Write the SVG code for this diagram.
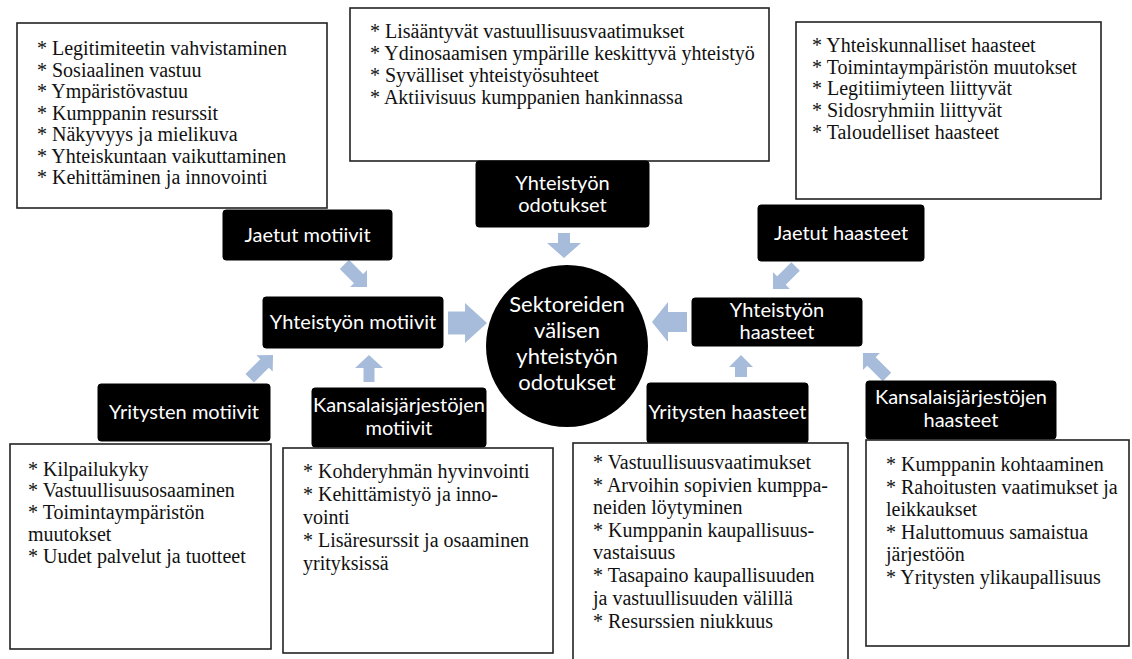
<svg xmlns="http://www.w3.org/2000/svg" width="1132" height="659" viewBox="0 0 1132 659">
<style>
.list{fill:#fff;stroke:#222;stroke-width:1.6}
.blk{fill:#000;stroke:#000;stroke-width:1}
.lt{font-family:"Liberation Serif","Times New Roman",serif;font-size:20px;fill:#111}
.bt{font-family:Lato,"Open Sans",sans-serif;font-size:20px;fill:#fff;text-anchor:middle}
.ct{font-family:Lato,"Open Sans",sans-serif;font-size:22px;fill:#fff;text-anchor:middle}
.arr{fill:#a7bbda;stroke:none}
</style>
<rect width="1132" height="659" fill="#fff"/>

<g id="connectors">
<polygon class="arr" transform="translate(344.4,264.4) rotate(45)" points="0,-6.5 20,-6.5 20,-12 32,0 20,12 20,6.5 0,6.5"/>
<polygon class="arr" transform="translate(448,323)" points="0,-11.5 17,-11.5 17,-20 39,0 17,20 17,11.5 0,11.5"/>
<polygon class="arr" transform="translate(249.7,378.3) rotate(-45)" points="0,-6 21,-6 21,-11.5 33,0 21,11.5 21,6 0,6"/>
<polygon class="arr" transform="translate(369,382) rotate(-90)" points="0,-5.5 14,-5.5 14,-14 27,0 14,14 14,5.5 0,5.5"/>
<polygon class="arr" transform="translate(564,233) rotate(90)" points="0,-6 10,-6 10,-17 25,0 10,17 10,6 0,6"/>
<polygon class="arr" transform="translate(795.6,266.4) rotate(135)" points="0,-6 20,-6 20,-12 32,0 20,12 20,6 0,6"/>
<polygon class="arr" transform="translate(687,322) rotate(180)" points="0,-10 19,-10 19,-20 35,0 19,20 19,10 0,10"/>
<polygon class="arr" transform="translate(741,377) rotate(-90)" points="0,-6 10,-6 10,-12 22,0 10,12 10,6 0,6"/>
<polygon class="arr" transform="translate(887,377) rotate(-135)" points="0,-6 22,-6 22,-12 34,0 22,12 22,6 0,6"/>
</g>

<g id="list-jaetut-motiivit">
<rect class="list" x="17" y="23" width="310" height="185"/>
<text class="lt" x="37" y="55">* Legitimiteetin vahvistaminen</text>
<text class="lt" x="37" y="76.5">* Sosiaalinen vastuu</text>
<text class="lt" x="37" y="98">* Ympäristövastuu</text>
<text class="lt" x="37" y="119.5">* Kumppanin resurssit</text>
<text class="lt" x="37" y="141">* Näkyvyys ja mielikuva</text>
<text class="lt" x="37" y="162.5">* Yhteiskuntaan vaikuttaminen</text>
<text class="lt" x="37" y="184">* Kehittäminen ja innovointi</text>
</g>

<g id="list-odotukset">
<rect class="list" x="350" y="8" width="419" height="153"/>
<text class="lt" x="370" y="38">* Lisääntyvät vastuullisuusvaatimukset</text>
<text class="lt" x="370" y="60">* Ydinosaamisen ympärille keskittyvä yhteistyö</text>
<text class="lt" x="370" y="82">* Syvälliset yhteistyösuhteet</text>
<text class="lt" x="370" y="104">* Aktiivisuus kumppanien hankinnassa</text>
</g>

<g id="list-jaetut-haasteet">
<rect class="list" x="796" y="22" width="305" height="177"/>
<text class="lt" x="812" y="52">* Yhteiskunnalliset haasteet</text>
<text class="lt" x="812" y="73.5">* Toimintaympäristön muutokset</text>
<text class="lt" x="812" y="95">* Legitiimiyteen liittyvät</text>
<text class="lt" x="812" y="117">* Sidosryhmiin liittyvät</text>
<text class="lt" x="812" y="139">* Taloudelliset haasteet</text>
</g>

<g id="node-jaetut-motiivit">
<rect class="blk" x="223" y="210" width="169" height="50" rx="3"/>
<text class="bt" x="307.5" y="242">Jaetut motiivit</text>
</g>

<g id="node-yhteistyon-odotukset">
<rect class="blk" x="476" y="161" width="173" height="66" rx="3"/>
<text class="bt" x="562.5" y="190">Yhteistyön</text>
<text class="bt" x="562.5" y="212">odotukset</text>
</g>

<g id="node-jaetut-haasteet">
<rect class="blk" x="758" y="205" width="166" height="56" rx="3"/>
<text class="bt" x="841" y="240">Jaetut haasteet</text>
</g>

<g id="node-yhteistyon-motiivit">
<rect class="blk" x="263" y="297" width="180" height="51" rx="3"/>
<text class="bt" x="353" y="329">Yhteistyön motiivit</text>
</g>

<g id="node-center">
<circle cx="567" cy="346" r="81" fill="#000"/>
<text class="ct" x="567" y="312">Sektoreiden</text>
<text class="ct" x="567" y="338">välisen</text>
<text class="ct" x="567" y="364">yhteistyön</text>
<text class="ct" x="567" y="390">odotukset</text>
</g>

<g id="node-yhteistyon-haasteet">
<rect class="blk" x="692" y="298" width="170" height="48" rx="3"/>
<text class="bt" x="777" y="317">Yhteistyön</text>
<text class="bt" x="777" y="339">haasteet</text>
</g>

<g id="node-yritysten-motiivit">
<rect class="blk" x="98" y="384" width="172" height="57" rx="3"/>
<text class="bt" x="184" y="419">Yritysten motiivit</text>
</g>

<g id="node-kansalais-motiivit">
<rect class="blk" x="312" y="388" width="174" height="59" rx="3"/>
<text class="bt" x="399" y="412">Kansalaisjärjestöjen</text>
<text class="bt" x="399" y="435">motiivit</text>
</g>

<g id="node-yritysten-haasteet">
<rect class="blk" x="647" y="383" width="161" height="60" rx="3"/>
<text class="bt" x="727.5" y="419">Yritysten haasteet</text>
</g>

<g id="node-kansalais-haasteet">
<rect class="blk" x="866" y="381" width="190" height="58" rx="3"/>
<text class="bt" x="961" y="404">Kansalaisjärjestöjen</text>
<text class="bt" x="961" y="427">haasteet</text>
</g>

<g id="list-yritysten-motiivit">
<rect class="list" x="10" y="444" width="261" height="205"/>
<text class="lt" x="28" y="476">* Kilpailukyky</text>
<text class="lt" x="28" y="497">* Vastuullisuusosaaminen</text>
<text class="lt" x="28" y="519">* Toimintaympäristön</text>
<text class="lt" x="28" y="541">muutokset</text>
<text class="lt" x="28" y="563">* Uudet palvelut ja tuotteet</text>
</g>

<g id="list-kansalais-motiivit">
<rect class="list" x="283" y="448" width="270" height="205"/>
<text class="lt" x="303" y="478">* Kohderyhmän hyvinvointi</text>
<text class="lt" x="303" y="501">* Kehittämistyö ja inno-</text>
<text class="lt" x="303" y="524">vointi</text>
<text class="lt" x="303" y="547">* Lisäresurssit ja osaaminen</text>
<text class="lt" x="303" y="570">yrityksissä</text>
</g>

<g id="list-yritysten-haasteet">
<rect class="list" x="573" y="443" width="275" height="225"/>
<text class="lt" x="593" y="469">* Vastuullisuusvaatimukset</text>
<text class="lt" x="593" y="491.5">* Arvoihin sopivien kumppa-</text>
<text class="lt" x="593" y="514">neiden löytyminen</text>
<text class="lt" x="593" y="536.5">* Kumppanin kaupallisuus-</text>
<text class="lt" x="593" y="559">vastaisuus</text>
<text class="lt" x="593" y="582">* Tasapaino kaupallisuuden</text>
<text class="lt" x="593" y="605">ja vastuullisuuden välillä</text>
<text class="lt" x="593" y="628">* Resurssien niukkuus</text>
</g>

<g id="list-kansalais-haasteet">
<rect class="list" x="866" y="440" width="263" height="206"/>
<text class="lt" x="886" y="471">* Kumppanin kohtaaminen</text>
<text class="lt" x="886" y="493.5">* Rahoitusten vaatimukset ja</text>
<text class="lt" x="886" y="516">leikkaukset</text>
<text class="lt" x="886" y="538.5">* Haluttomuus samaistua</text>
<text class="lt" x="886" y="561">järjestöön</text>
<text class="lt" x="886" y="583.5">* Yritysten ylikaupallisuus</text>
</g>
</svg>
